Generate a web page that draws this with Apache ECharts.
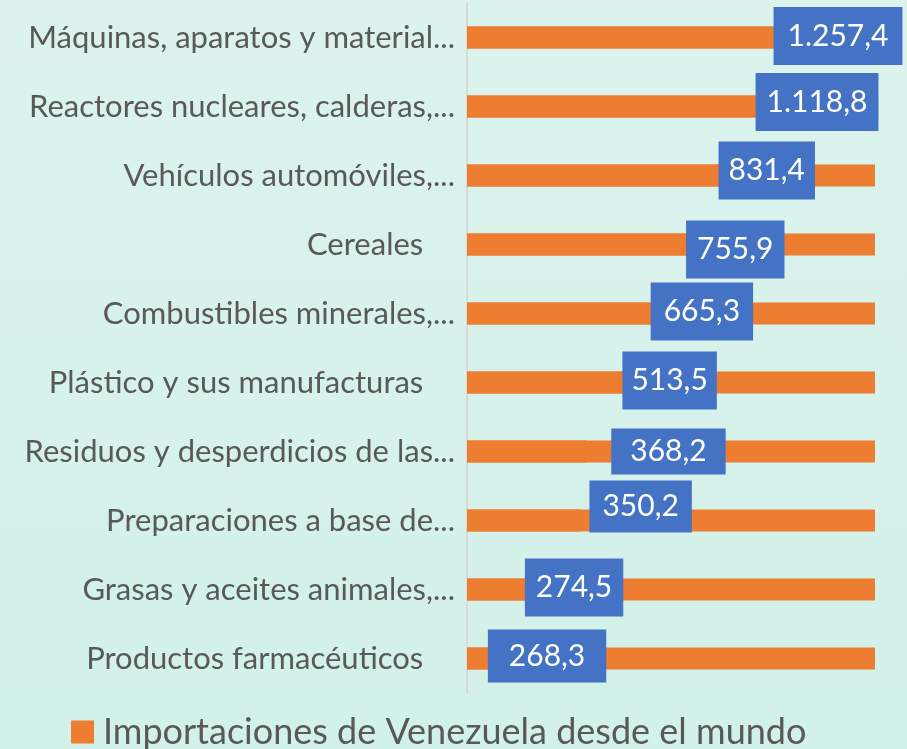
<!DOCTYPE html>
<html>
<head>
<meta charset="utf-8">
<script src="https://cdn.jsdelivr.net/npm/echarts@6/dist/echarts.min.js"></script>
<style>
  html, body { margin: 0; padding: 0; }
  #chart { width: 907px; height: 749px; }
</style>
</head>
<body>
<div id="chart"></div>
<script>
// categorias (de arriba hacia abajo)
var categorias = [
  "Máquinas, aparatos y material...",
  "Reactores nucleares, calderas,...",
  "Vehículos automóviles,...",
  "Cereales    ",
  "Combustibles minerales,...",
  "Plástico y sus manufacturas    ",
  "Residuos y desperdicios de las...",
  "Preparaciones a base de...",
  "Grasas y aceites animales,...",
  "Productos farmacéuticos    "
];
// millones de US$
var importaciones = [1257.4, 1118.8, 831.4, 755.9, 665.3, 513.5, 368.2, 350.2, 274.5, 268.3];
var serieNombre = "Importaciones de Venezuela desde el mundo";

// desplazamiento / relleno manual de las etiquetas (como en el original)
var etiquetaDx = [-37, -13, 30, 23, 19, 36, 82, 60, 18, -7];
var etiquetaDy = [-1.5, -4.5, -5, 5, -2, -2, 0, -14, -2, -2.5];
var etiquetaPadH = [14, 11, 10, 11, 13, 9, 19, 13, 11, 21];
var etiquetaPadV = [[14, 12], [14, 12], [14, 12], [14, 12], [14, 12], [14, 12], [8, 6], [11, 9], [14, 12], [11, 10]];

var fuente = "Lato";
var naranja = "#ed7d31";
var azul = "#4472c4";

function fmt(v) {
  var s = v.toFixed(1).split(".");
  var ent = s[0].replace(/\B(?=(\d{3})+(?!\d))/g, ".");
  return ent + "," + s[1];
}

var chart = echarts.init(document.getElementById("chart"));

chart.setOption({
  backgroundColor: {
    type: "linear", x: 0, y: 0, x2: 0, y2: 1,
    colorStops: [
      { offset: 0, color: "#dcf3ed" },
      { offset: 1, color: "#d2f1e8" }
    ]
  },
  animation: false,
  textStyle: { fontFamily: fuente },
  grid: { left: 467, right: 32, top: 3, bottom: 56 },
  legend: {
    data: [serieNombre],
    left: 66,
    top: 709,
    icon: "rect",
    itemWidth: 23,
    itemHeight: 23,
    textStyle: { color: "#595959", fontSize: 36, fontFamily: fuente, padding: [0, 0, 0, 4] }
  },
  xAxis: {
    type: "value",
    min: 0,
    max: "dataMax",
    show: false
  },
  yAxis: {
    type: "category",
    inverse: true,
    data: categorias,
    axisLine: { show: true, lineStyle: { color: "#d9d9d9", width: 2 } },
    axisTick: { show: false },
    axisLabel: { color: "#595959", fontSize: 31, margin: 12, fontFamily: fuente }
  },
  series: [
    {
      name: serieNombre,
      type: "bar",
      barWidth: 22,
      itemStyle: { color: naranja },
      showBackground: true,
      backgroundStyle: { color: naranja },
      data: importaciones.map(function (v, i) {
        return {
          value: v,
          label: {
            offset: [etiquetaDx[i], etiquetaDy[i]],
            padding: [etiquetaPadV[i][0], etiquetaPadH[i], etiquetaPadV[i][1], etiquetaPadH[i]]
          }
        };
      }),
      label: {
        show: true,
        position: ["100%", "50%"],
        align: "center",
        verticalAlign: "middle",
        backgroundColor: azul,
        color: "#ffffff",
        fontSize: 30,
        lineHeight: 32,
        fontFamily: fuente,
        formatter: function (p) { return fmt(p.value); }
      }
    }
  ]
});
</script>
</body>
</html>
